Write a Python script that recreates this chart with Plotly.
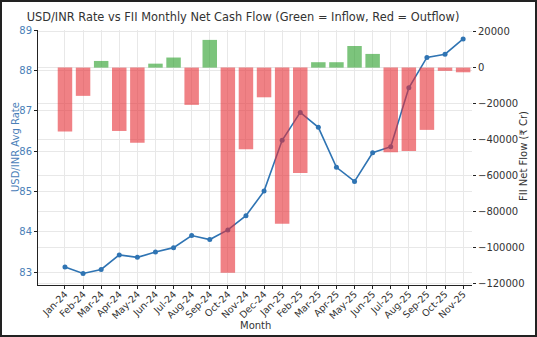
import plotly.graph_objects as go

# Monthly data, Jan-2024 .. Nov-2025
months = ["Jan-24", "Feb-24", "Mar-24", "Apr-24", "May-24", "Jun-24", "Jul-24",
          "Aug-24", "Sep-24", "Oct-24", "Nov-24", "Dec-24", "Jan-25", "Feb-25",
          "Mar-25", "Apr-25", "May-25", "Jun-25", "Jul-25", "Aug-25", "Sep-25",
          "Oct-25", "Nov-25"]

usd_inr = [83.13, 82.97, 83.07, 83.43, 83.37, 83.50, 83.61, 83.91, 83.81,
           84.05, 84.40, 85.01, 86.27, 86.96, 86.59, 85.60, 85.25, 85.96,
           86.11, 87.57, 88.32, 88.40, 88.78]

fii_flow = [-35500, -15700, 3700, -35200, -41800, 2200, 5600, -20700, 15400,
            -114000, -45400, -16500, -86800, -58500, 3000, 3000, 12000, 7600,
            -47000, -46300, -34600, -1800, -2600]

left_ticks = [83, 84, 85, 86, 87, 88, 89]
right_ticks = [20000, 0, -20000, -40000, -60000, -80000, -100000, -120000]

RED = "rgba(230,45,52,0.6)"
GREEN = "rgba(44,160,44,0.62)"
BLUE = "#2f74b3"
AXIS_BLUE = "#4a80b8"
DARK = "#333333"
GRID = "#e8e8e8"

idx = list(range(len(months)))
bar_colors = [GREEN if v >= 0 else RED for v in fii_flow]

fig = go.Figure()

fig.add_trace(go.Scatter(
    x=idx, y=usd_inr, mode="lines+markers", yaxis="y",
    line=dict(color=BLUE, width=1.6),
    marker=dict(color=BLUE, size=5),
    showlegend=False,
))

fig.add_trace(go.Bar(
    x=idx, y=fii_flow, yaxis="y2", width=0.8,
    marker=dict(color=bar_colors, line=dict(width=0)),
    showlegend=False,
))

L, R, T, B = 38, 65, 30, 52
W, H = 537, 337
pw, ph = W - L - R, H - T - B


def px(x):
    return (x - L) / pw


def py(y):
    return 1 - (y - T) / ph


# axis titles placed in figure pixels
axis_titles = [
    dict(text="Month", x=px(255), y=py(325), textangle=0, font=dict(size=10, color=DARK)),
    dict(text="USD/INR Avg Rate", x=px(15), y=py(147), textangle=-90,
         font=dict(size=10, color=AXIS_BLUE)),
    dict(text="FII Net Flow (₹ Cr)", x=px(523), y=py(156), textangle=-90,
         font=dict(size=10, color=DARK)),
]
annotations = [dict(xref="paper", yref="paper", xanchor="center", yanchor="middle",
                    showarrow=False, **a) for a in axis_titles]

fig.update_layout(
    width=W, height=H,
    margin=dict(l=L, r=R, t=T, b=B, pad=0, autoexpand=False),
    paper_bgcolor="white", plot_bgcolor="white",
    font=dict(family="DejaVu Sans", size=10, color=DARK),
    title=dict(
        text="USD/INR Rate vs FII Monthly Net Cash Flow (Green = Inflow, Red = Outflow)",
        x=243 / W, xanchor="center", y=1 - 17 / H, yanchor="middle",
        font=dict(size=11.4, color=DARK), automargin=False,
    ),
    xaxis=dict(
        range=[-1.49, 22.49], tickmode="array", tickvals=idx, ticktext=months,
        tickangle=-45, tickfont=dict(size=9.5), ticklabelstandoff=-4,
        showgrid=True, gridcolor=GRID, gridwidth=0.8,
        showline=True, linecolor="#222", linewidth=1,
        ticks="outside", ticklen=3, tickcolor="#222",
        zeroline=False, automargin=False,
    ),
    yaxis=dict(
        range=[82.685, 89.0], tickvals=left_ticks,
        tickfont=dict(color=AXIS_BLUE, size=10),
        showgrid=True, gridcolor=GRID, gridwidth=0.8,
        showline=True, linecolor="#222", linewidth=1,
        ticks="outside", ticklen=3, tickcolor="#222",
        zeroline=False, automargin=False,
    ),
    yaxis2=dict(
        range=[-120800, 20900], tickvals=right_ticks, overlaying="y", side="right",
        tickformat="d", tickfont=dict(size=10),
        showgrid=True, gridcolor=GRID, gridwidth=0.8,
        showline=False, ticks="outside", ticklen=3, tickcolor="#222",
        zeroline=False, automargin=False,
    ),
    bargap=0.2,
    annotations=annotations,
    shapes=[dict(
        type="rect", xref="paper", yref="paper",
        x0=-(L - 1) / pw, x1=1 + (R - 1) / pw,
        y0=-(B - 1) / ph, y1=1 + (T - 1) / ph,
        line=dict(color="#222", width=2), fillcolor="rgba(0,0,0,0)", layer="above",
    )],
)

fig.write_html("out.html")
